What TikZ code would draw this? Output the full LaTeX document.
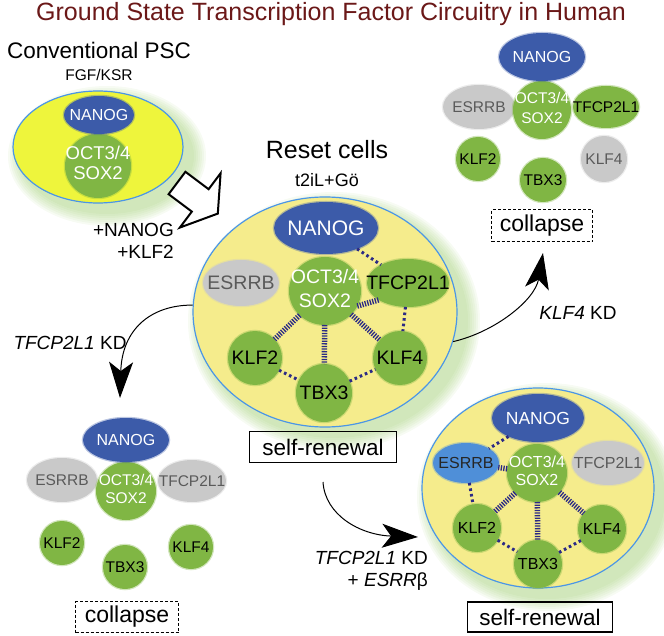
\documentclass[tikz,border=0pt]{standalone}
\usepackage{fontspec}
\setmainfont{Liberation Sans}
\usetikzlibrary{shapes.geometric,arrows.meta}
\definecolor{titlered}{HTML}{6B1818}
\definecolor{brightyel}{HTML}{EEF53C}
\definecolor{paleyel}{HTML}{F5EC8C}
\definecolor{rim}{HTML}{4B96E6}
\definecolor{nanogc}{HTML}{3C5BA9}
\definecolor{leaf}{HTML}{80B644}
\definecolor{greyc}{HTML}{C9C9C9}
\definecolor{greytxt}{HTML}{5A5A5A}
\definecolor{esrrbc}{HTML}{4F8FD8}
\definecolor{navy}{HTML}{2B2A85}
\definecolor{glowc}{HTML}{8CC455}
\newcommand\fsz[2]{\fontsize{#1}{#2}\selectfont}
\newcommand\zc[1]{\makebox[0pt]{#1}}
\newcommand\zt[2]{\makebox[0pt]{\begin{tabular}{@{}c@{}}#1\\#2\end{tabular}}}
\newcommand\glowell[4]{%
  \foreach \k in {1,...,7}{\fill[glowc, opacity=0.07] (#1+9,#2+9) ellipse ({#3+2*\k} and {#4+2*\k});}}
\tikzset{
  blob/.style={ellipse, inner sep=0pt, outer sep=0pt, line width=2.5pt, draw opacity=0.35},
  sz/.style 2 args={minimum width=#1pt, minimum height=#2pt},
  nan/.style={blob, fill=nanogc, draw=nanogc, text=white},
  octc/.style={blob, fill=leaf, draw=leaf, text=white},
  grn/.style={blob, fill=leaf, draw=leaf, text=black},
  gry/.style={blob, fill=greyc, draw=greyc, text=greytxt},
  esb/.style={blob, fill=esrrbc, draw=esrrbc, text=black!85},
  cell/.style={ellipse, draw=rim, line width=1.2pt, inner sep=0pt},
  dotl/.style={draw=navy, line width=3pt, dash pattern=on 2.6pt off 3pt},
  hatch/.style={draw=navy, line width=5.5pt, dash pattern=on 1.3pt off 1.3pt},
  solidbox/.style={draw=black, line width=1.3pt, inner sep=0pt, font=\fsz{22.5}{26}},
  dashbox/.style={draw=black, line width=1pt, dash pattern=on 3pt off 2pt, inner sep=0pt, font=\fsz{23}{26}},
  curvearrow/.style={line width=1pt, -{Stealth[length=36pt,width=24pt,inset=9pt]}},
  lbl/.style={inner sep=0pt},
}
\begin{document}
\begin{tikzpicture}[x=1pt, y=-1pt]
\useasboundingbox (0,0) rectangle (664,636);
% title
\node[lbl, text=titlered, font=\fsz{25}{28}] (title) at (331,14) {Ground State Transcription Factor Circuitry in Human};

% ---------- Conventional PSC ----------
\node[lbl, font=\fsz{22.5}{26}] (convlbl) at (99,50) {Conventional PSC};
\node[lbl, font=\fsz{15.5}{18}] (fgf) at (99,75) {FGF/KSR};
\glowell{98}{147}{85}{56}
\node[cell, fill=brightyel, sz={170}{112}] (conv) at (98,147) {};
\node[octc, sz={66}{64}, font=\fsz{18.5}{20}] (coct) at (98,166) {\zt{OCT3/4}{SOX2}};
\node[nan, sz={70}{38}, font=\fsz{16}{19}] (cnan) at (99,115) {\zc{NANOG}};

% block arrow
\draw[fill=white, line width=2pt, line join=miter]
  (168.6,194.2) -- (185.4,171.8) -- (208.6,189.2) -- (220.6,173.2) -- (217.8,213.6) -- (179.8,227.6) -- (191.8,211.6) -- cycle;
\node[lbl, anchor=east, font=\fsz{19}{22}] (plusnanog) at (174,230) {+NANOG};
\node[lbl, anchor=east, font=\fsz{19}{22}] (plusklf) at (174,252) {+KLF2};

% ---------- Reset cells ----------
\node[lbl, font=\fsz{25}{28}] (resetlbl) at (327,150) {Reset cells};
\node[lbl, font=\fsz{18}{21}] (t2il) at (327,180) {t2iL+Gö};
\glowell{325}{312}{132}{115}
\node[cell, fill=paleyel, sz={264}{230}] (reset) at (325,312) {};
\begin{scope}[nodes={font=\fsz{19.5}{24}}]
\node[gry, sz={76}{46}] (mesrrb) at (241,283) {\zc{ESRRB}};
\node[grn, sz={82}{48}] (mtfcp) at (408,283) {\zc{TFCP2L1}};
\node[octc, sz={72}{68}] (moct) at (325,291) {\zt{OCT3/4}{SOX2}};
\node[nan, sz={104}{52}, font=\fsz{21}{24}] (mnan) at (326,228) {\zc{NANOG}};
\node[grn, sz={54}{54}] (mklf2) at (255,358) {\zc{KLF2}};
\node[grn, sz={56}{58}] (mtbx3) at (324,393) {\zc{TBX3}};
\node[grn, sz={54}{54}] (mklf4) at (400,358) {\zc{KLF4}};
\end{scope}
\draw[dotl] (mnan) -- (mtfcp);
\draw[dotl] (mtfcp) -- (mklf4);
\draw[dotl] (mklf2) -- (mtbx3);
\draw[dotl] (mtbx3) -- (mklf4);
\draw[hatch] (moct.-25) -- (mtfcp.-150);
\draw[hatch] (moct) -- (mklf2);
\draw[hatch] (moct) -- (mtbx3);
\draw[hatch] (moct) -- (mklf4);
\node[solidbox, sz={147}{31}] (sr1) at (323,447) {self-renewal};

% ---------- top-right collapse ----------
\begin{scope}[nodes={font=\fsz{15.5}{20}}]
\node[gry, sz={72}{44}] (tesrrb) at (479,107) {\zc{ESRRB}};
\node[grn, sz={66}{42}] (ttfcp) at (606,107) {\zc{TFCP2L1}};
\node[octc, sz={58}{58}] (toct) at (542,110) {\zt{OCT3/4}{SOX2}};
\node[nan, sz={86}{48}, font=\fsz{16}{20}] (tnan) at (542,57) {\zc{NANOG}};
\node[grn, sz={44}{44}] (tklf2) at (478,159) {\zc{KLF2}};
\node[gry, sz={46}{46}] (tklf4) at (604,159) {\zc{KLF4}};
\node[grn, sz={46}{44}] (ttbx3) at (543,180) {\zc{TBX3}};
\end{scope}
\node[dashbox, sz={101}{32}] (col1) at (542,226) {collapse};

% ---------- left collapse ----------
\begin{scope}[nodes={font=\fsz{15.5}{18.3}}]
\node[gry, sz={70}{44}] (lesrrb) at (62,480) {\zc{ESRRB}};
\node[gry, sz={68}{42}] (ltfcp) at (192,481) {\zc{TFCP2L1}};
\node[octc, sz={60}{58}] (loct) at (126,491) {\zt{OCT3/4}{SOX2}};
\node[nan, sz={86}{44}, font=\fsz{16}{19}] (lnan) at (126,440) {\zc{NANOG}};
\node[grn, sz={44}{44}] (lklf2) at (62,543) {\zc{KLF2}};
\node[grn, sz={44}{44}] (ltbx3) at (125,567) {\zc{TBX3}};
\node[grn, sz={44}{44}] (lklf4) at (191,547) {\zc{KLF4}};
\end{scope}
\node[dashbox, sz={103}{31}] (col2) at (127,617) {collapse};

% ---------- bottom-right self-renewal ----------
\glowell{538}{488}{116}{100}
\node[cell, fill=paleyel, sz={232}{200}] (brcell) at (538,488) {};
\begin{scope}[nodes={font=\fsz{16}{18.3}}]
\node[gry, sz={72}{44}] (btfcp) at (608,463) {\zc{TFCP2L1}};
\node[esb, sz={66}{40}] (besrrb) at (466,463) {\zc{ESRRB}};
\node[octc, sz={60}{58}] (boct) at (537,473) {\zt{OCT3/4}{SOX2}};
\node[nan, sz={92}{48}, font=\fsz{17.5}{20}] (bnan) at (538,418) {\zc{NANOG}};
\node[grn, sz={48}{48}] (bklf2) at (477,528) {\zc{KLF2}};
\node[grn, sz={48}{48}] (btbx3) at (538,564) {\zc{TBX3}};
\node[grn, sz={48}{48}] (bklf4) at (602,529) {\zc{KLF4}};
\end{scope}
\draw[dotl] (bnan) -- (besrrb);
\draw[dotl] (besrrb) -- (bklf2);
\draw[dotl] (bklf2) -- (btbx3);
\draw[dotl] (btbx3) -- (bklf4);
\draw[hatch] (besrrb) -- (boct);
\draw[hatch] (boct) -- (bklf2);
\draw[hatch] (boct) -- (btbx3);
\draw[hatch] (boct) -- (bklf4);
\node[solidbox, sz={145}{30}] (sr2) at (540,617) {self-renewal};

% ---------- curved arrows ----------
\coordinate (k4tip) at (543,253);
\coordinate (ltip) at (120,398);
\coordinate (brstart) at (323,482);
\coordinate (brtip) at (418,537);
\draw[curvearrow] (reset.-13) .. controls (495,332) and (535,300) .. (k4tip);
\draw[curvearrow] (reset.177) .. controls (150,305) and (122,330) .. (ltip);
\draw[curvearrow] (brstart) .. controls (325,515) and (360,535) .. (brtip);

\node[lbl, font=\fsz{19}{22}] (klf4kd) at (578,313) {\textit{KLF4} KD};
\node[lbl, font=\fsz{19}{22}] (tfkd1) at (70,343) {\textit{TFCP2L1} KD};
\node[lbl, anchor=east, font=\fsz{19}{22}] (tfkd2) at (428,558) {\textit{TFCP2L1} KD};
\node[lbl, anchor=east, font=\fsz{19}{22}] (esrrbeta) at (428,582) {+ \textit{ESRR}β};
\end{tikzpicture}
\end{document}
